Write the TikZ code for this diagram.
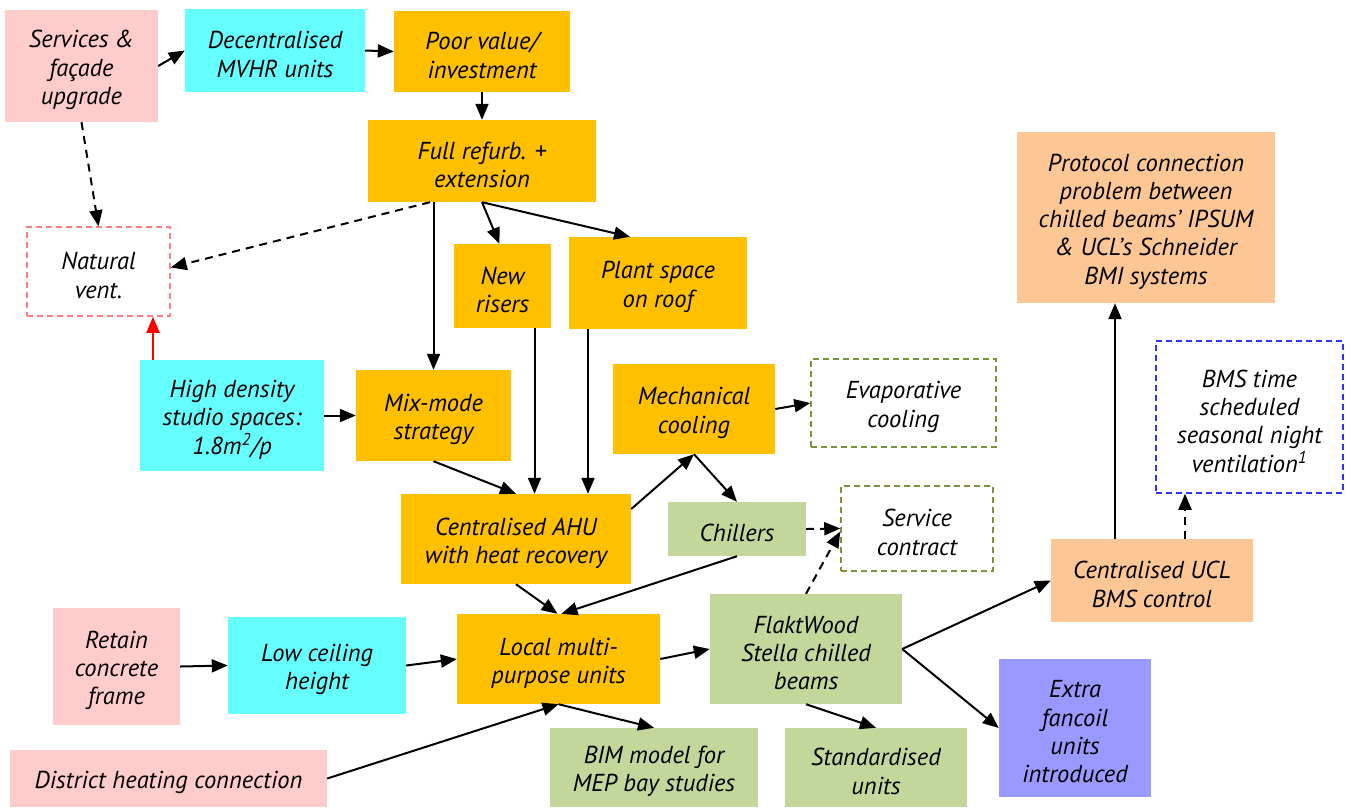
\documentclass[tikz,border=0pt]{standalone}
\usepackage{fontspec}
\setmainfont{PT Sans}
\usetikzlibrary{arrows.meta}
\definecolor{pinkfill}{HTML}{FFCCCC}
\definecolor{cyanfill}{HTML}{66FFFF}
\definecolor{amber}{HTML}{FFC000}
\definecolor{sage}{HTML}{C4D79B}
\definecolor{peach}{HTML}{FCC794}
\definecolor{lavender}{HTML}{9999FF}
\definecolor{salmonline}{HTML}{FF7C80}
\definecolor{oliveline}{HTML}{77933C}
\definecolor{blueline}{HTML}{3333FF}
\begin{document}
\begin{tikzpicture}[x=1pt,y=-1pt,
  font=\itshape\fontsize{24.5}{28.3}\selectfont,
  box/.style={inner sep=0pt, draw=none},
  t/.style={label={[align=center, inner sep=0pt, yshift=-4pt]center:{#1}}},
  pinkbox/.style={box, fill=pinkfill},
  cyanbox/.style={box, fill=cyanfill},
  amberbox/.style={box, fill=amber},
  sagebox/.style={box, fill=sage},
  peachbox/.style={box, fill=peach},
  lavbox/.style={box, fill=lavender},
  dashbox/.style={box, line width=1.5pt, dash pattern=on 6pt off 4pt},
  arr/.style={line width=2pt, -{Triangle[length=16pt,width=13pt]}},
  darr/.style={arr, dash pattern=on 8pt off 6pt},
]
\useasboundingbox (0,0) rectangle (1351,807);

% boxes (text is set a little below the geometric centre)
\node[pinkbox, minimum width=153pt, minimum height=112pt, t={Services \&\\façade\\upgrade}] (svc) at (81.5,66) {};
\node[cyanbox, minimum width=180pt, minimum height=83pt, t={Decentralised\\MVHR units}] (mvhr) at (275,50.5) {};
\node[amberbox, minimum width=176pt, minimum height=81pt, t={Poor value/\\investment}] (poor) at (482,51.5) {};
\node[amberbox, minimum width=228pt, minimum height=82pt, t={Full refurb. +\\extension}] (full) at (482,161) {};
\node[dashbox, draw=salmonline, minimum width=143pt, minimum height=89pt, t={Natural\\vent.}] (nat) at (98.5,271.5) {};
\node[amberbox, minimum width=97pt, minimum height=84pt, t={New\\risers}] (risers) at (502.5,286) {};
\node[amberbox, minimum width=178pt, minimum height=92pt, t={Plant space\\on roof}] (plant) at (658,283) {};
\node[cyanbox, minimum width=184pt, minimum height=111pt, t={High density\\studio spaces:\\1.8m\textsuperscript{2}/p}] (hd) at (232,415.5) {};
\node[amberbox, minimum width=155pt, minimum height=91pt, t={Mix-mode\\strategy}] (mix) at (433.5,415.5) {};
\node[amberbox, minimum width=162pt, minimum height=90pt, t={Mechanical\\cooling}] (mech) at (694,409) {};
\node[dashbox, draw=oliveline, minimum width=185pt, minimum height=88pt, t={Evaporative\\cooling}] (evap) at (903.5,403) {};
\node[amberbox, minimum width=230pt, minimum height=90pt, t={Centralised AHU\\with heat recovery}] (ahu) at (516,539) {};
\node[sagebox, minimum width=138pt, minimum height=54pt, t={Chillers}] (chill) at (737,529) {};
\node[dashbox, draw=oliveline, minimum width=152pt, minimum height=85pt, t={Service\\contract}] (svcc) at (917,528.5) {};
\node[pinkbox, minimum width=127pt, minimum height=117pt, t={Retain\\concrete\\frame}] (retain) at (116.5,666.5) {};
\node[cyanbox, minimum width=178pt, minimum height=97pt, t={Low ceiling\\height}] (low) at (317,665.5) {};
\node[amberbox, minimum width=203pt, minimum height=90pt, t={Local multi-\\purpose units}] (local) at (558.5,659) {};
\node[sagebox, minimum width=192pt, minimum height=110pt, t={FlaktWood\\Stella chilled\\beams}] (flakt) at (806,649) {};
\node[pinkbox, minimum width=317pt, minimum height=57pt, t={District heating connection}] (dist) at (168.5,778.5) {};
\node[sagebox, minimum width=208pt, minimum height=79pt, t={BIM model for\\MEP bay studies}] (bim) at (654,767.5) {};
\node[sagebox, minimum width=182pt, minimum height=79pt, t={Standardised\\units}] (std) at (876,767.5) {};
\node[lavbox, minimum width=152pt, minimum height=138pt, t={Extra\\fancoil\\units\\introduced}] (extra) at (1075,728) {};
\node[peachbox, minimum width=258pt, minimum height=171pt, t={Protocol connection\\problem between\\chilled beams’ IPSUM\\\& UCL’s Schneider\\BMI systems}] (proto) at (1146,217.5) {};
\node[dashbox, draw=blueline, minimum width=187pt, minimum height=152pt, t={BMS time\\scheduled\\seasonal night\\ventilation\textsuperscript{1}}] (bmst) at (1249.5,417) {};
\node[peachbox, minimum width=202pt, minimum height=83pt, t={Centralised UCL\\BMS control}] (ucl) at (1152,580.5) {};

% connectors
\draw[arr] (svc.east) -- (mvhr.west);
\draw[arr] (mvhr.east) -- (poor.west);
\draw[arr] (poor.south) -- (full.north);
\draw[darr] (svc.south) -- (nat.north);
\draw[darr] ([xshift=-52pt]full.south) -- ([yshift=4pt]nat.east);
\draw[arr] (mix.north |- full.south) -- (mix.north);
\draw[arr] (full.south) -- ([xshift=-3pt]risers.north);
\draw[arr] (full.south) -- ([xshift=-28pt]plant.north);
\draw[arr, red] ([xshift=-79pt]hd.north) -- ([xshift=-79pt]hd.north |- nat.south);
\draw[arr] (hd.east) -- (mix.west);
\draw[arr] (mix.south) -- (ahu.north);
\draw[arr] ([xshift=32pt]risers.south) -- ([xshift=32pt]risers.south |- ahu.north);
\draw[arr] ([xshift=-70pt]plant.south) -- ([xshift=-70pt]plant.south |- ahu.north);
\draw[arr] ([yshift=30pt]ahu.east) -- (mech.south);
\draw[arr] (mech.south) -- (chill.north);
\draw[arr] (mech.east) -- (evap.west);
\draw[darr] (chill.east) -- (svcc.west);
\draw[darr] (flakt.north) -- ([yshift=-3pt]svcc.west);
\draw[arr] (ahu.south) -- ([xshift=-1pt]local.north);
\draw[arr] (chill.south) -- ([xshift=3pt]local.north);
\draw[arr] (retain.east) -- (low.west);
\draw[arr] (low.east) -- (local.west);
\draw[arr] (local.east) -- (flakt.west);
\draw[arr] (dist.east) -- (local.south);
\draw[arr] (local.south) -- (bim.north);
\draw[arr] (flakt.south) -- (std.north);
\draw[arr] (flakt.east) -- (ucl.west);
\draw[arr] (flakt.east) -- (extra.west);
\draw[arr] ([xshift=-37pt]ucl.north) -- ([xshift=-37pt]ucl.north |- proto.south);
\draw[darr] ([xshift=33pt]ucl.north) -- ([xshift=33pt]ucl.north |- bmst.south);
\end{tikzpicture}
\end{document}
